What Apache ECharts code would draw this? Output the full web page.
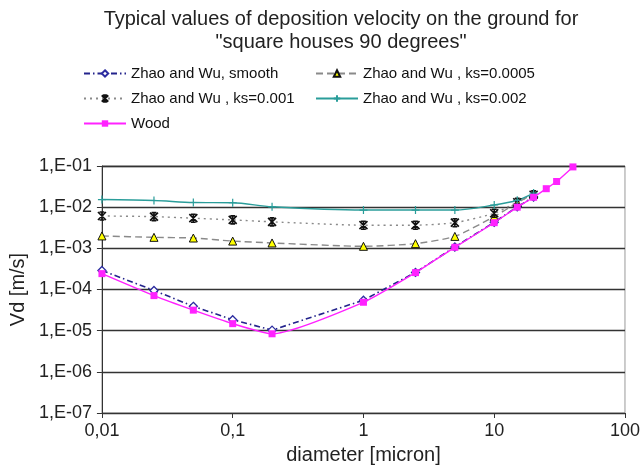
<!DOCTYPE html>
<html>
<head>
<meta charset="utf-8">
<script src="https://cdn.jsdelivr.net/npm/echarts@6/dist/echarts.min.js"></script>
<style>
  html, body { margin: 0; padding: 0; background: #fff; }
  #chart { width: 643px; height: 470px; }
</style>
</head>
<body>
<div id="chart"></div>
<script>
// Particle diameters [micron]
const dZhao = [0.01, 0.025, 0.05, 0.1, 0.2, 1, 2.5, 5, 10, 15, 20];
const dWood = [0.01, 0.025, 0.05, 0.1, 0.2, 1, 2.5, 5, 10, 15, 20, 25, 30, 40];

// Deposition velocity Vd [m/s]
const vdSmooth = [2.9e-4, 9.5e-5, 3.9e-5, 1.85e-5, 1.03e-5, 5.5e-5, 2.6e-4, 1.08e-3, 4.3e-3, 0.0102, 0.0176];
const vdKs0005 = [2.0e-3, 1.85e-3, 1.78e-3, 1.5e-3, 1.35e-3, 1.12e-3, 1.3e-3, 1.95e-3, 5.9e-3, 0.0128, 0.021];
const vdKs001  = [6.1e-3, 5.9e-3, 5.4e-3, 4.9e-3, 4.4e-3, 3.65e-3, 3.65e-3, 4.2e-3, 7.1e-3, 0.0132, 0.020];
const vdKs002  = [0.0153, 0.0145, 0.013, 0.0128, 0.0102, 8.5e-3, 8.5e-3, 8.5e-3, 0.0113, 0.0147, 0.022];
const vdWood   = [2.43e-4, 7.1e-5, 3.15e-5, 1.48e-5, 8.4e-6, 4.9e-5, 2.57e-4, 1.06e-3, 4.2e-3, 0.01, 0.0174, 0.0281, 0.042, 0.095];

const FONT = '"Liberation Sans", Arial, sans-serif';
const pairs = (xs, ys) => xs.map((x, i) => [x, ys[i]]);

const starSymbol = 'path://M0,0L10,10M10,0L0,10M5,0L5,10M2,0L8,0M2,10L8,10';
const plusSymbol = 'path://M0,5L10,5M5,0L5,10';

const chart = echarts.init(document.getElementById('chart'), null, { renderer: 'canvas' });

const legendText = { fontFamily: FONT, fontSize: 15, color: '#111' };

chart.setOption({
  backgroundColor: '#fff',
  animation: false,
  title: {
    text: 'Typical values of deposition velocity on the ground for\n"square houses 90 degrees"',
    left: 336,
    top: 3,
    textAlign: 'center',
    textStyle: { fontFamily: FONT, fontSize: 20, fontWeight: 'normal', color: '#222', lineHeight: 23 }
  },
  legend: [
    {
      orient: 'vertical', left: 78, top: 61, itemWidth: 42, itemHeight: 8, itemGap: 10,
      textStyle: legendText,
      data: ['Zhao and Wu, smooth', 'Zhao and Wu , ks=0.001', 'Wood']
    },
    {
      orient: 'vertical', left: 310, top: 61, itemWidth: 42, itemHeight: 8, itemGap: 10,
      textStyle: legendText,
      data: ['Zhao and Wu , ks=0.0005', 'Zhao and Wu , ks=0.002']
    }
  ],
  grid: { left: 100, top: 166, width: 527, height: 250, show: true, borderColor: '#999', borderWidth: 1 },
  xAxis: {
    type: 'log', logBase: 10, min: 0.01, max: 100,
    name: 'diameter [micron]', nameLocation: 'middle', nameGap: 32,
    nameTextStyle: { fontFamily: FONT, fontSize: 20, color: '#222' },
    axisLine: { lineStyle: { color: '#333', width: 1 } },
    axisTick: { show: true, inside: false, length: 5, lineStyle: { color: '#333' } },
    minorTick: { show: false },
    splitLine: { show: false },
    axisLabel: {
      fontFamily: FONT, fontSize: 18, color: '#222', margin: 9,
      formatter: v => String(+v.toPrecision(3)).replace('.', ',')
    }
  },
  yAxis: {
    type: 'log', logBase: 10, min: 1e-7, max: 0.1,
    name: 'Vd [m/s]', nameLocation: 'middle', nameGap: 69, nameRotate: 90,
    nameTextStyle: { fontFamily: FONT, fontSize: 20, color: '#222' },
    axisLine: { show: true, lineStyle: { color: '#333', width: 1 } },
    axisTick: { show: true, inside: false, length: 5, lineStyle: { color: '#333' } },
    splitLine: { show: true, lineStyle: { color: ['#333', '#333', '#333', '#333', '#333', '#333', '#999'], width: 1.3 } },
    axisLabel: {
      fontFamily: FONT, fontSize: 18, color: '#222', margin: 10,
      formatter: v => {
        const e = Math.round(Math.log10(v));
        return '1,E' + (e < 0 ? '-' : '+') + String(Math.abs(e)).padStart(2, '0');
      }
    }
  },
  series: [
    {
      name: 'Zhao and Wu, smooth', type: 'line', data: pairs(dZhao, vdSmooth), z: 3,
      symbol: 'diamond', symbolSize: 8,
      itemStyle: { color: '#fff', borderColor: '#2b2ba0', borderWidth: 1.3 },
      lineStyle: { color: '#23238c', width: 1.6, type: [6, 3, 1.5, 3] }
    },
    {
      name: 'Zhao and Wu , ks=0.0005', type: 'line', data: pairs(dZhao, vdKs0005), z: 3, smooth: 0.2,
      symbol: 'triangle', symbolSize: 8,
      itemStyle: { color: '#ffff00', borderColor: '#111', borderWidth: 1 },
      lineStyle: { color: '#8a8a8a', width: 1.4, type: [7, 4] }
    },
    {
      name: 'Zhao and Wu , ks=0.001', type: 'line', data: pairs(dZhao, vdKs001), z: 3, smooth: 0.2,
      symbol: starSymbol, symbolSize: 8,
      itemStyle: { color: 'transparent', borderColor: '#111', borderWidth: 1.6 },
      lineStyle: { color: '#8a8a8a', width: 1.4, type: [2, 4] }
    },
    {
      name: 'Zhao and Wu , ks=0.002', type: 'line', data: pairs(dZhao, vdKs002), z: 3, smooth: 0.3,
      symbol: plusSymbol, symbolSize: 8,
      itemStyle: { color: 'transparent', borderColor: '#2a9d9a', borderWidth: 1.2 },
      lineStyle: { color: '#2a9d9a', width: 1.4 }
    },
    {
      name: 'Wood', type: 'line', data: pairs(dWood, vdWood), z: 4, smooth: 0.2,
      symbol: 'rect', symbolSize: 7,
      itemStyle: { color: '#ff22ff', borderColor: '#ff22ff', borderWidth: 0 },
      lineStyle: { color: '#ff22ff', width: 1.4 }
    }
  ]
});
</script>
</body>
</html>
